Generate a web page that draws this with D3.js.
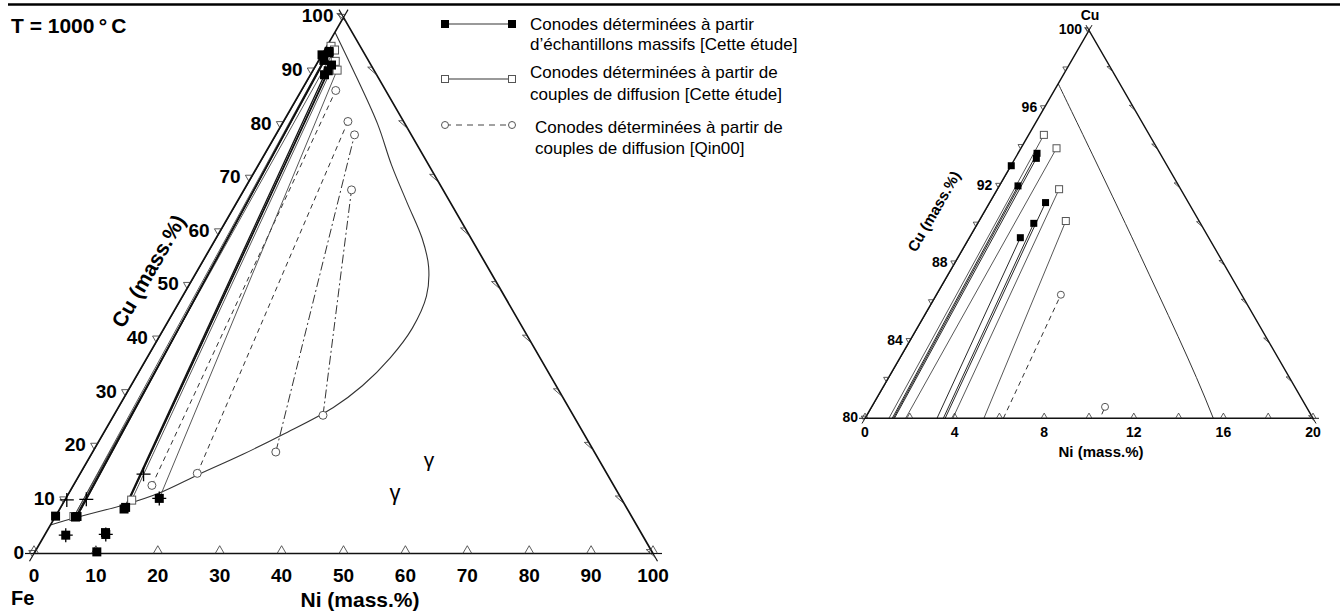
<!DOCTYPE html>
<html><head><meta charset="utf-8">
<script src="https://cdn.jsdelivr.net/npm/d3@7"></script>
<style>
body{margin:0;background:#fff;}
svg{display:block;}
text{font-family:"Liberation Sans",Arial,Helvetica,sans-serif;}
</style>
</head><body>
<svg id="c" width="1340" height="614"></svg>
<script>
// ---------------- DATA (compositions in mass.% : [Ni, Cu]) ----------------
const boundary = [[0,5.3],[3.4,6.7],[10.3,9.2],[14.6,11.3],[19.3,14.8],[24.5,18.5],[29.1,22.2],
  [34.7,27.2],[37.4,31.3],[39.3,36.5],[40.1,42],[39.4,48],[37.0,53.5],[33.3,58.8],[27.5,65.5],
  [21.5,72.5],[15.55,80],[8,88.5],[0,97.25]];
// tie lines [Ni1, Cu1, Ni2, Cu2]
const massiveTies = [[0,6.97,0.02,93.02],[3.5,6.9,0.85,93.66],[3.5,6.9,0.84,91.98],[3.3,6.8,0.95,93.4],
  [10.5,8.6,2.50,91.12],[10.5,8.6,2.51,90.05],[10.4,8.3,2.28,89.31]];
const diffusionTies = [[3.0,6.9,0.68,94.61],[3.0,6.9,1.59,93.92],[10.8,9.96,2.76,91.81],[15.1,10.28,3.88,90.17]];
const qinTies = [[12.7,12.7,5.56,86.37],[18.9,14.95,10.42,80.59],[29.6,18.93,12.73,78.1],[33.8,25.78,17.38,67.83]];
const qinDash = ["dash","dash","dashdot","dashdot"];
const massivePoints = [[0,6.97],[3.5,6.9],[3.3,6.8],[10.5,8.6],[10.4,8.3],[15.1,10.28],[3.42,3.42],[9.82,3.55],[9.6,3.9],[10,0.3],
  [0.85,93.66],[0.95,93.4],[0.02,93.02],[0.84,91.98],[2.50,91.12],[2.51,90.05],[2.28,89.31]];
const diffusionPoints = [[3.0,6.9],[10.8,9.96],[0.68,94.61],[1.59,93.92],[2.76,91.81],[3.88,90.17]];
const qinPoints = [[12.7,12.7],[18.9,14.95],[29.6,18.93],[33.8,25.78],[5.56,86.37],[10.42,80.59],[12.73,78.1],[17.38,67.83]];
const crossPoints = [[0.3,10],[3.4,10.1],[10.3,14.8],[3.42,3.42],[9.82,3.55],[15.1,10.28]];
const mainTickLabels = [0,10,20,30,40,50,60,70,80,90,100];
const zoomCuLabels = [80,84,88,92,96,100];
const zoomNiLabels = [0,4,8,12,16,20];
const legendTexts = [
  ["Conodes déterminées à partir","d’échantillons massifs [Cette étude]"],
  ["Conodes déterminées à partir de","couples de diffusion [Cette étude]"],
  ["Conodes déterminées à partir de","couples de diffusion [Qin00]"]];

// ---------------- DRAWING ----------------
const svg = d3.select("#c");
const S3 = Math.sqrt(3)/2;
svg.append("line").attr("x1",8).attr("x2",1340).attr("y1",4.5).attr("y2",4.5)
  .attr("stroke","#000").attr("stroke-width",2.6);

function makePanel(x0,y0,W,cmin,range){
  const xs = d3.scaleLinear().domain([0,range]).range([x0,x0+W]);
  const ys = d3.scaleLinear().domain([cmin,cmin+range]).range([y0,y0-W*S3]);
  const p = (n,c)=>[xs(n+(c-cmin)/2), ys(c)];
  return {xs,ys,p,cmin,range};
}
const defs = svg.append("defs");
const dashes = {dash:"5,4", dashdot:"9,3,2,3"};

function drawPanel(P, o){
  const g = svg.append("g");
  const A = P.p(0,P.cmin), B = P.p(P.range,P.cmin), C = P.p(0,P.cmin+P.range);
  defs.append("clipPath").attr("id",o.id).append("path")
    .attr("d",`M${A}L${B}L${C}Z`);
  const cg = g.append("g").attr("clip-path",`url(#${o.id})`);
  cg.append("path").datum(boundary.map(d=>P.p(d[0],d[1])))
    .attr("d",d3.line().curve(d3.curveCatmullRom.alpha(0.5)))
    .attr("fill","none").attr("stroke","#333").attr("stroke-width",o.curveW);
  const seg = (arr, stroke, w, dashF)=>{
    cg.selectAll(null).data(arr).enter().append("line")
      .attr("x1",d=>P.p(d[0],d[1])[0]).attr("y1",d=>P.p(d[0],d[1])[1])
      .attr("x2",d=>P.p(d[2],d[3])[0]).attr("y2",d=>P.p(d[2],d[3])[1])
      .attr("stroke",stroke).attr("stroke-width",w)
      .attr("stroke-dasharray",dashF||null);
  };
  seg(qinTies,"#333",1,(d,i)=>dashes[qinDash[i]]);
  seg(diffusionTies,"#444",o.diffW);
  seg(massiveTies,"#111",o.massW);
  g.append("path").attr("d",`M${A}L${B}L${C}Z`).attr("fill","none")
    .attr("stroke","#111").attr("stroke-width",o.edgeW).attr("stroke-linejoin","miter");
  const e = o.ext;
  const ext = (pt, dx, dy)=> g.append("line").attr("x1",pt[0]).attr("y1",pt[1])
      .attr("x2",pt[0]+dx*e).attr("y2",pt[1]+dy*e).attr("stroke","#111").attr("stroke-width",o.edgeW*0.7);
  ext(A,-1,0); ext(A,-0.5,S3); ext(B,1,0); ext(B,0.5,S3); ext(C,0.5,-S3); ext(C,-0.5,-S3);
  // ticks
  const tk = g.append("g").attr("fill","none").attr("stroke","#333").attr("stroke-width",0.8);
  const vals = d3.range(0, P.range+1e-9, o.step);
  vals.forEach(v=>{
    let s = o.tick, h = s*S3;
    let q = P.p(v,P.cmin);
    tk.append("path").attr("d",`M${q[0]-s/2},${q[1]}L${q[0]},${q[1]-h}L${q[0]+s/2},${q[1]}`);
    s = o.tickL; h = s*S3;
    q = P.p(0,P.cmin+v);
    tk.append("path").attr("d",`M${q[0]-s/4},${q[1]+h/2}L${q[0]-0.75*s},${q[1]-h/2}L${q[0]+s/4},${q[1]-h/2}`);
    s = o.tick; h = s*S3;
    q = P.p(P.range-v,P.cmin+v);
    tk.append("path").attr("d",`M${q[0]-s/4},${q[1]-h/2}L${q[0]-0.75*s},${q[1]-h/2}L${q[0]+s/4},${q[1]+h/2}`);
  });
  // markers
  const inside = d=> d[1]>=P.cmin-0.3 && d[0]>=-0.3 && d[0]+d[1]<=100.3;
  const mk = g.append("g");
  mk.selectAll(null).data(qinPoints.filter(inside)).enter().append("circle")
    .attr("cx",d=>P.p(d[0],d[1])[0]).attr("cy",d=>P.p(d[0],d[1])[1]).attr("r",o.circR)
    .attr("fill","#fff").attr("stroke","#555").attr("stroke-width",1);
  mk.selectAll(null).data(diffusionPoints.filter(inside)).enter().append("rect")
    .attr("x",d=>P.p(d[0],d[1])[0]-o.sq/2).attr("y",d=>P.p(d[0],d[1])[1]-o.sq/2)
    .attr("width",o.sq).attr("height",o.sq)
    .attr("fill","#fff").attr("stroke","#555").attr("stroke-width",1);
  if(o.crosses){
    mk.selectAll(null).data(crossPoints.filter(inside)).enter().append("path")
      .attr("d",d=>{const q=P.p(d[0],d[1]);const c=7;return `M${q[0]-c},${q[1]}H${q[0]+c}M${q[0]},${q[1]-c}V${q[1]+c}`;})
      .attr("stroke","#000").attr("stroke-width",1.3);
  }
  mk.selectAll(null).data(massivePoints.filter(inside)).enter().append("rect")
    .attr("x",d=>P.p(d[0],d[1])[0]-o.bsq/2).attr("y",d=>P.p(d[0],d[1])[1]-o.bsq/2)
    .attr("width",o.bsq).attr("height",o.bsq).attr("fill","#000");
  return g;
}

// main triangle
const L = makePanel(34,553.5,619,0,100);
const gL = drawPanel(L,{id:"clipL",curveW:1.1,diffW:0.9,massW:1.3,edgeW:1.7,ext:9,tick:9,tickL:7,step:10,
  circR:4,sq:8,bsq:9,crosses:true});
mainTickLabels.forEach(v=>{
  const q = L.p(v,0);
  gL.append("text").attr("x",q[0]).attr("y",q[1]+28).attr("text-anchor","middle")
    .attr("font-size",19).attr("font-weight","bold").text(v);
  const r = L.p(0,v);
  gL.append("text").attr("x",r[0]-10).attr("y",r[1]+5).attr("text-anchor","end")
    .attr("font-size",19).attr("font-weight","bold").text(v);
});
svg.append("text").attr("x",11).attr("y",33).attr("font-size",21).attr("font-weight","bold").text("T = 1000\u2009°\u2009C");
svg.append("text").attr("x",11).attr("y",605).attr("font-size",20).attr("font-weight","bold").text("Fe");
svg.append("text").attr("x",360).attr("y",607).attr("text-anchor","middle").attr("font-size",21).attr("font-weight","bold").text("Ni (mass.%)");
svg.append("text").attr("transform","translate(150,272) rotate(-60)").attr("text-anchor","middle")
  .attr("dominant-baseline","middle").attr("font-size",21).attr("font-weight","bold").text("Cu (mass.%)");
svg.append("text").attr("x",429).attr("y",467).attr("text-anchor","middle").attr("font-size",21)
  .attr("font-family","Liberation Serif, Times New Roman, serif").text("γ");
svg.append("text").attr("x",395).attr("y",500).attr("text-anchor","middle").attr("font-size",22)
  .attr("font-family","DejaVu Sans, sans-serif").text("γ");

// zoom triangle
const R = makePanel(865,418.3,448,80,20);
const gR = drawPanel(R,{id:"clipR",curveW:1,diffW:0.9,massW:0.9,edgeW:1.4,ext:6,tick:6,tickL:5,step:2,
  circR:3.5,sq:7,bsq:7,crosses:false});
zoomNiLabels.forEach(v=>{
  const q = R.p(v,80);
  gR.append("text").attr("x",q[0]).attr("y",q[1]+19).attr("text-anchor","middle")
    .attr("font-size",14).attr("font-weight","bold").text(v);
});
zoomCuLabels.forEach(v=>{
  const r = R.p(0,v);
  gR.append("text").attr("x",r[0]-7).attr("y",r[1]+4).attr("text-anchor","end")
    .attr("font-size",14).attr("font-weight","bold").text(v);
});
svg.append("text").attr("x",1090).attr("y",20).attr("text-anchor","middle").attr("font-size",14).attr("font-weight","bold").text("Cu");
svg.append("text").attr("x",1101).attr("y",457).attr("text-anchor","middle").attr("font-size",15).attr("font-weight","bold").text("Ni (mass.%)");
svg.append("text").attr("transform","translate(935,212) rotate(-60)").attr("text-anchor","middle")
  .attr("dominant-baseline","middle").attr("font-size",15).attr("font-weight","bold").text("Cu (mass.%)");

// legend
const lg = svg.append("g");
const legY = [24,79,125], legTx = [530,530,535], legT1 = [24,72,127], legT2 = [44,94,148];
legendTexts.forEach((t,i)=>{
  const y = legY[i];
  lg.append("line").attr("x1",445).attr("x2",512).attr("y1",y).attr("y2",y)
    .attr("stroke", i==2?"#444":"#777").attr("stroke-width", i==2?1:1.4)
    .attr("stroke-dasharray", i==2?"6,5":null);
  [445,512].forEach(x=>{
    if(i==0) lg.append("rect").attr("x",x-4).attr("y",y-4).attr("width",8).attr("height",8).attr("fill","#000");
    else if(i==1) lg.append("rect").attr("x",x-3.5).attr("y",y-3.5).attr("width",7).attr("height",7).attr("fill","#fff").attr("stroke","#555");
    else lg.append("circle").attr("cx",x).attr("cy",y).attr("r",3.5).attr("fill","#fff").attr("stroke","#555");
  });
  lg.append("text").attr("x",legTx[i]).attr("y",legT1[i]+6).attr("font-size",17).text(t[0]);
  lg.append("text").attr("x",legTx[i]).attr("y",legT2[i]+6).attr("font-size",17).text(t[1]);
});
</script>
</body></html>
